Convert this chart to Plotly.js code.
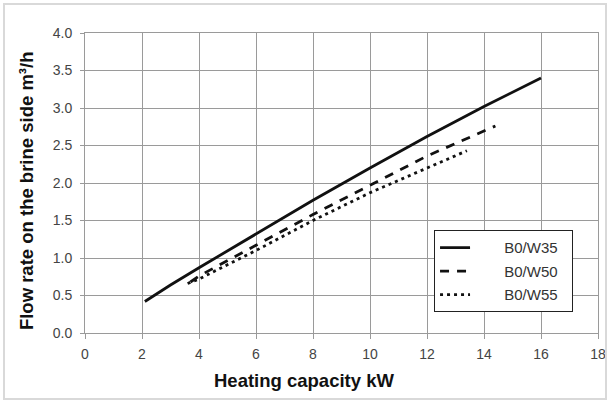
<!DOCTYPE html>
<html>
<head>
<meta charset="utf-8">
<script src="https://cdn.plot.ly/plotly-3.0.1.min.js"></script>
<style>
html,body{margin:0;padding:0;background:#fff;}
#wrap{position:relative;width:612px;height:403px;}
#chart{width:612px;height:403px;}
#frame{position:absolute;left:3px;top:3px;width:604px;height:397px;border:2px solid #d9d9d9;pointer-events:none;box-sizing:border-box;}
</style>
</head>
<body>
<div id="wrap"><div id="chart"></div><div id="frame"></div></div>
<script>
const seriesNames = ["B0/W35", "B0/W50", "B0/W55"];
const w35x = [2.1, 3.0, 4.0, 6.0, 8.0, 10.0, 12.0, 14.0, 16.0];
const w35y = [0.42, 0.64, 0.87, 1.32, 1.77, 2.2, 2.62, 3.02, 3.4];
const w50x = [3.7, 4.0, 6.0, 8.0, 10.0, 12.0, 14.4];
const w50y = [0.68, 0.76, 1.17, 1.58, 1.97, 2.36, 2.76];
const w55x = [3.6, 4.0, 6.0, 8.0, 10.0, 12.0, 13.4];
const w55y = [0.66, 0.72, 1.1, 1.5, 1.87, 2.2, 2.43];
const xTicks = [0, 2, 4, 6, 8, 10, 12, 14, 16, 18];
const yTicks = [0, 0.5, 1, 1.5, 2, 2.5, 3, 3.5, 4];
const xTitle = "Heating capacity kW";
const yTitle = "Flow rate on the brine side m³/h";

const font = "Liberation Sans, Arial, sans-serif";
const pad = s => "\u00a0".repeat(7) + s + "\u00a0\u00a0";
const traces = [
  {x: w35x, y: w35y, name: pad(seriesNames[0]), legendgroup: "a", mode: "lines", line: {color: "#111", width: 2.8, dash: "solid"}},
  {x: w50x, y: w50y, name: pad(seriesNames[1]), legendgroup: "b", mode: "lines", line: {color: "#111", width: 2.8, dash: "9px,8px"}},
  {x: w55x, y: w55y, name: pad(seriesNames[2]), legendgroup: "c", mode: "lines", line: {color: "#111", width: 2.8, dash: "3px,4px"}}
];
const layout = {
  width: 612, height: 403,
  margin: {l: 85, r: 14, t: 33, b: 70},
  paper_bgcolor: "rgba(0,0,0,0)", plot_bgcolor: "#fff",
  font: {family: font, color: "#444", size: 14},
  showlegend: true,
  legend: {x: 0.68, y: 0.343, xanchor: "left", yanchor: "top", bgcolor: "#fff", bordercolor: "#222", borderwidth: 1.2,
           font: {family: font, size: 15, color: "#333"}, tracegroupgap: 1},
  xaxis: {range: [0, 18], tickvals: xTicks, ticktext: xTicks.map(String), showgrid: true, gridcolor: "#9a9a9a", gridwidth: 1,
          zeroline: false, showline: true, linecolor: "#9a9a9a", linewidth: 1, mirror: true,
          ticks: "outside", ticklen: 5, tickcolor: "#9a9a9a", ticklabelstandoff: 3,
          tickfont: {family: font, size: 14, color: "#444"}},
  yaxis: {range: [0, 4], tickvals: yTicks, ticktext: yTicks.map(v => v.toFixed(1)), showgrid: true, gridcolor: "#9a9a9a", gridwidth: 1,
          zeroline: false, showline: true, linecolor: "#9a9a9a", linewidth: 1, mirror: true,
          ticks: "outside", ticklen: 4, tickcolor: "#9a9a9a", ticklabelstandoff: 5,
          tickfont: {family: font, size: 14, color: "#444"}},
  annotations: [
    {text: "<b>" + xTitle + "</b>", xref: "paper", yref: "paper", x: 0.427, y: -0.157, xanchor: "center", yanchor: "middle",
     showarrow: false, font: {family: font, size: 18.5, color: "#111"}},
    {text: "<b>" + yTitle + "</b>", xref: "paper", yref: "paper", x: -0.115, y: 0.473, xanchor: "center", yanchor: "middle",
     textangle: -90, showarrow: false, font: {family: font, size: 18.5, color: "#111"}}
  ]
};
Plotly.newPlot("chart", traces, layout, {displayModeBar: false, staticPlot: true});
</script>
</body>
</html>
